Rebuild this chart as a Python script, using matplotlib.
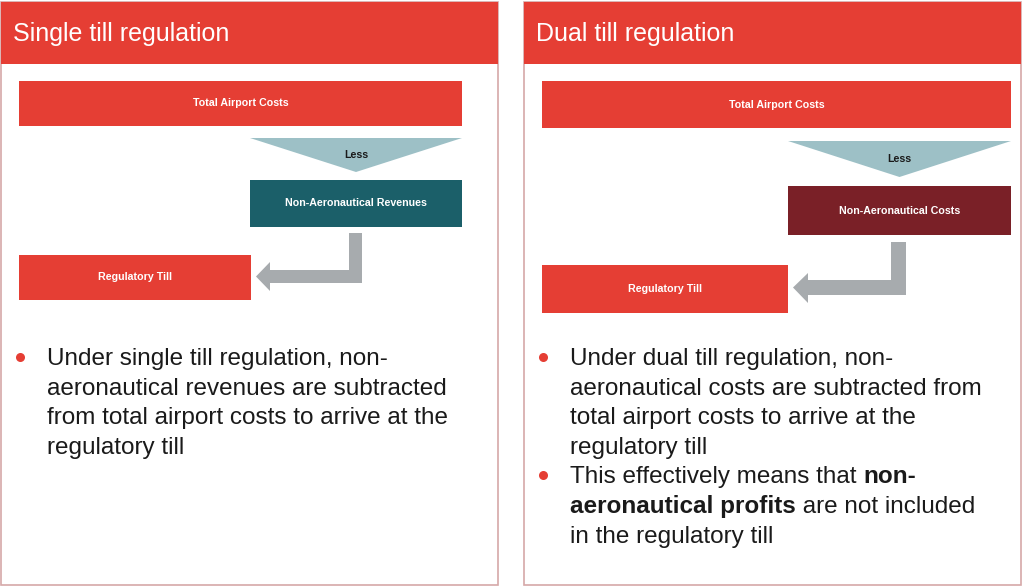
import matplotlib.pyplot as plt
from matplotlib.patches import Rectangle, Polygon

plt.rcParams['font.family'] = ['Liberation Sans', 'DejaVu Sans']

# content
titles = ['Single till regulation', 'Dual till regulation']
top_label = 'Total Airport Costs'
less_label = 'Less'
mid_labels = ['Non-Aeronautical Revenues', 'Non-Aeronautical Costs']
till_label = 'Regulatory Till'
left_lines = ['Under single till regulation, non-',
              'aeronautical revenues are subtracted',
              'from total airport costs to arrive at the',
              'regulatory till']
right_lines = ['Under dual till regulation, non-',
               'aeronautical costs are subtracted from',
               'total airport costs to arrive at the',
               'regulatory till']
# second bullet on the right: (text, bold) pieces per line
right_bullet2 = [[('This effectively means that ', False), ('non-', True)],
                 [('aeronautical profits', True), (' are not included', False)],
                 [('in the regulatory till', False)]]

RED = '#e53e34'
TEAL = '#1b5f69'
DARKRED = '#7a2027'
LIGHT = '#9dc0c6'
GRAY = '#a7abae'
BORDER = '#d6a8a8'
TXT = '#1a1a1a'

W, H = 1022, 586
fig = plt.figure(figsize=(W / 100, H / 100), dpi=100)
ax = fig.add_axes([0, 0, 1, 1])
ax.set_xlim(0, W)
ax.set_ylim(H, 0)
ax.axis('off')

LFS = 7.7  # box label size


def panel(x0, x1, title, top, tri, mid, mid_color, mid_label, arrow, till):
    ax.add_patch(Rectangle((x0, 2), x1 - x0, 583, fc='white', ec=BORDER, lw=1.2))
    ax.add_patch(Rectangle((x0, 2), x1 - x0, 62, fc=RED, ec='none'))
    ax.text(x0 + 12, 34, title, color='white', fontsize=18, va='center', ha='left')
    # total airport costs
    bx0, by0, bx1, by1 = top
    ax.add_patch(Rectangle((bx0, by0), bx1 - bx0, by1 - by0, fc=RED, ec='none'))
    ax.text((bx0 + bx1) / 2, (by0 + by1) / 2, top_label, color='white',
            fontsize=LFS, fontweight='bold', ha='center', va='center')
    # "less" triangle
    tx0, tx1, ty0, ty1 = tri
    ax.add_patch(Polygon([(tx0, ty0), (tx1, ty0), ((tx0 + tx1) / 2, ty1)],
                         closed=True, fc=LIGHT, ec='none'))
    ax.text((tx0 + tx1) / 2, ty0 + (ty1 - ty0) * 0.5, less_label, color=TXT,
            fontsize=LFS, fontweight='bold', ha='center', va='center')
    # middle box
    mx0, my0, mx1, my1 = mid
    ax.add_patch(Rectangle((mx0, my0), mx1 - mx0, my1 - my0, fc=mid_color, ec='none'))
    ax.text((mx0 + mx1) / 2, (my0 + my1) / 2, mid_label,
            color='white', fontsize=LFS, fontweight='bold', ha='center', va='center')
    # elbow arrow
    vx0, vx1, vy0, hy0, hy1, tip, hb, hh0, hh1 = arrow
    ax.add_patch(Polygon([(vx0, vy0), (vx1, vy0), (vx1, hy1), (hb, hy1), (hb, hh1),
                          (tip, (hy0 + hy1) / 2), (hb, hh0), (hb, hy0), (vx0, hy0)],
                         closed=True, fc=GRAY, ec='none'))
    # regulatory till
    rx0, ry0, rx1, ry1 = till
    ax.add_patch(Rectangle((rx0, ry0), rx1 - rx0, ry1 - ry0, fc=RED, ec='none'))
    ax.text((rx0 + rx1) / 2, (ry0 + ry1) / 2, till_label, color='white',
            fontsize=LFS, fontweight='bold', ha='center', va='center')


panel(1, 498, titles[0], (19, 81, 462, 126), (250, 462, 138, 172),
      (250, 180, 462, 227), TEAL, mid_labels[0],
      (349, 362, 233, 270, 283, 256, 270, 262, 291), (19, 255, 251, 300))
panel(524, 1021, titles[1], (542, 81, 1011, 128), (788, 1011, 141, 177),
      (788, 186, 1011, 235), DARKRED, mid_labels[1],
      (891, 906, 242, 280, 295, 793, 808, 273, 303), (542, 265, 788, 313))

FS = 17.5
step = 29.6


def bullet(x, y):
    ax.plot([x], [y], 'o', color=RED, ms=6.5, mec='none')


bullet(20, 357)
for i, line in enumerate(left_lines):
    ax.text(47, 365 + i * step, line, fontsize=FS, color=TXT, ha='left', va='baseline')

bullet(543, 357)
for i, line in enumerate(right_lines):
    ax.text(570, 365 + i * step, line, fontsize=FS, color=TXT, ha='left', va='baseline')

bullet(543, 357 + 4 * step)
fig.canvas.draw()
r = fig.canvas.get_renderer()
for i, parts in enumerate(right_bullet2):
    x = 570
    y = 365 + (4 + i) * step
    for s, bold in parts:
        t = ax.text(x, y, s, fontsize=FS, color=TXT, ha='left', va='baseline',
                    fontweight='bold' if bold else 'normal')
        x += t.get_window_extent(renderer=r).width

fig.savefig('out.png', dpi=100)
